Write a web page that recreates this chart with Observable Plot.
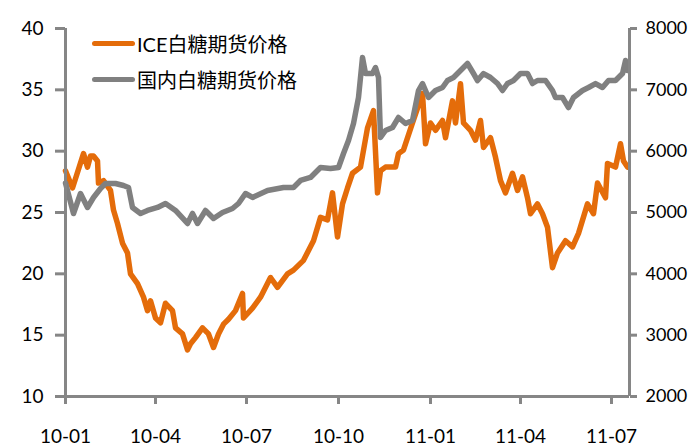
<!DOCTYPE html>
<html>
<head>
<meta charset="utf-8">
<script src="https://cdn.jsdelivr.net/npm/d3@7"></script>
<script src="https://cdn.jsdelivr.net/npm/@observablehq/plot@0.6"></script>
<style>
  html, body { margin: 0; padding: 0; background: #fff; }
  #wrap { position: relative; width: 690px; height: 448px; font-family: Lato, "Noto Sans CJK SC", sans-serif; }
  #legend { position: absolute; left: 92px; top: 0; }
  .item { position: absolute; left: 0; display: flex; align-items: center; white-space: nowrap; font-size: 20px; color: #000; }
  .swatch { display: inline-block; width: 43px; height: 5px; border-radius: 3px; margin-right: 2px; }
</style>
</head>
<body>
<div id="wrap"></div>
<script>
// ---------- data ----------
const seriesNames = ["ICE白糖期货价格", "国内白糖期货价格"];
const seriesColors = ["#E46C0A", "#808080"];

const iceDates = [
  "2010-01-01","2010-01-08","2010-01-19","2010-01-23","2010-01-26","2010-01-29","2010-02-02","2010-02-03",
  "2010-02-08","2010-02-15","2010-02-18","2010-02-22","2010-02-27","2010-03-04","2010-03-07","2010-03-14",
  "2010-03-20","2010-03-24","2010-03-27","2010-04-01","2010-04-06","2010-04-11","2010-04-18","2010-04-21",
  "2010-04-28","2010-05-03","2010-05-06","2010-05-11","2010-05-18","2010-05-24","2010-05-29","2010-06-03",
  "2010-06-08","2010-06-13","2010-06-20","2010-06-27","2010-06-28","2010-07-07","2010-07-15","2010-07-25",
  "2010-08-01","2010-08-11","2010-08-17","2010-08-27","2010-09-06","2010-09-13","2010-09-20","2010-09-25",
  "2010-09-30","2010-10-05","2010-10-10","2010-10-15","2010-10-23","2010-10-30","2010-11-05","2010-11-09",
  "2010-11-12","2010-11-17","2010-11-27","2010-11-30","2010-12-05","2010-12-14","2010-12-24","2010-12-27",
  "2011-01-01","2011-01-06","2011-01-13","2011-01-16","2011-01-23","2011-01-26","2011-01-31","2011-02-03",
  "2011-02-10","2011-02-15","2011-02-20","2011-02-23","2011-03-02","2011-03-07","2011-03-12","2011-03-17",
  "2011-03-24","2011-03-29","2011-04-03","2011-04-08","2011-04-11","2011-04-18","2011-04-23","2011-04-28",
  "2011-05-03","2011-05-08","2011-05-16","2011-05-23","2011-05-29","2011-06-07","2011-06-13","2011-06-17",
  "2011-06-25","2011-06-27","2011-07-05","2011-07-10","2011-07-13","2011-07-17"
];
const iceValues = [
  28.4,27.0,29.8,28.7,29.6,29.6,29.2,27.4,
  27.6,26.8,25.2,24.1,22.5,21.7,20.0,19.2,
  18.1,17.0,17.8,16.4,16.0,17.6,17.0,15.6,
  15.1,13.8,14.3,14.8,15.6,15.1,14.0,15.1,
  15.9,16.3,17.0,18.4,16.4,17.2,18.1,19.7,
  18.9,20.0,20.3,21.1,22.7,24.6,24.4,26.6,
  23.0,25.7,27.0,28.2,28.7,31.9,33.3,26.6,
  28.4,28.7,28.7,29.8,30.1,32.3,34.7,30.6,
  32.3,31.7,32.5,31.1,34.1,32.3,35.5,32.3,
  31.7,30.9,32.5,30.3,31.1,29.5,27.6,26.6,
  28.2,26.8,27.9,26.2,24.9,25.7,24.9,23.8,
  20.5,21.7,22.7,22.2,23.3,25.7,24.9,27.4,
  26.2,29.0,28.7,30.6,29.2,28.7
];

const cnDates = [
  "2010-01-01","2010-01-09","2010-01-16","2010-01-23","2010-01-29","2010-02-05","2010-02-10","2010-02-20",
  "2010-02-28","2010-03-05","2010-03-09","2010-03-17","2010-03-24","2010-04-03","2010-04-11","2010-04-21",
  "2010-05-03","2010-05-08","2010-05-13","2010-05-21","2010-05-29","2010-06-07","2010-06-17","2010-06-23",
  "2010-06-30","2010-07-07","2010-07-22","2010-08-07","2010-08-17","2010-08-24","2010-09-03","2010-09-13",
  "2010-09-23","2010-10-01","2010-10-06","2010-10-11","2010-10-16","2010-10-21","2010-10-25","2010-10-28",
  "2010-11-04","2010-11-07","2010-11-10","2010-11-12","2010-11-17","2010-11-24","2010-11-30","2010-12-07",
  "2010-12-14","2010-12-20","2010-12-24","2010-12-30","2011-01-06","2011-01-13","2011-01-18","2011-01-24",
  "2011-01-31","2011-02-07","2011-02-13","2011-02-17","2011-02-23","2011-03-02","2011-03-09","2011-03-14",
  "2011-03-19","2011-03-25","2011-04-01","2011-04-08","2011-04-13","2011-04-18","2011-04-26","2011-05-03",
  "2011-05-06","2011-05-13","2011-05-19","2011-05-24","2011-06-02","2011-06-08","2011-06-15","2011-06-22",
  "2011-06-28","2011-07-05","2011-07-12","2011-07-15","2011-07-17"
];
const cnValues = [
  5480,4984,5310,5082,5245,5392,5473,5473,
  5440,5408,5082,4984,5033,5082,5147,5033,
  4821,4984,4821,5033,4902,5000,5065,5147,
  5310,5245,5359,5408,5408,5522,5571,5734,
  5717,5734,5962,6174,6451,6875,7527,7266,
  7266,7364,7201,6223,6337,6386,6549,6451,
  6500,6989,7103,6875,6989,7038,7152,7201,
  7315,7429,7266,7152,7266,7201,7103,6989,
  7103,7152,7266,7266,7103,7152,7152,6989,
  6875,6875,6712,6875,6989,7038,7103,7038,
  7152,7152,7266,7478,7315
];

const leftTicks = [10, 15, 20, 25, 30, 35, 40];
const rightTicks = [2000, 3000, 4000, 5000, 6000, 7000, 8000];
const xTicks = ["2010-01-01","2010-04-01","2010-07-01","2010-10-01","2011-01-01","2011-04-01","2011-07-01"];
const xDomain = ["2010-01-01", "2011-07-19"];

// ---------- build ----------
const parse = d3.utcParse("%Y-%m-%d");
const leftDomain = [10, 40];
const rightDomain = [2000, 8000];
const toLeft = v => leftDomain[0] + (v - rightDomain[0]) / (rightDomain[1] - rightDomain[0]) * (leftDomain[1] - leftDomain[0]);
const toRight = v => rightDomain[0] + (v - leftDomain[0]) / (leftDomain[1] - leftDomain[0]) * (rightDomain[1] - rightDomain[0]);

const ice = iceDates.map((d, i) => ({date: parse(d), value: iceValues[i]}));
const cn = cnDates.map((d, i) => ({date: parse(d), value: toLeft(cnValues[i])}));

const axisColor = "#868686";
const chart = Plot.plot({
  width: 690,
  height: 448,
  marginLeft: 65,
  marginRight: 61,
  marginTop: 28,
  marginBottom: 52,
  style: {fontFamily: "Lato, 'Noto Sans CJK SC', sans-serif", fontSize: "18px", color: "#000", background: "#fff", overflow: "visible"},
  x: {type: "utc", domain: xDomain.map(parse)},
  y: {domain: leftDomain},
  marks: [
    Plot.line(ice, {x: "date", y: "value", stroke: seriesColors[0], strokeWidth: 5.5, strokeLinejoin: "round", curve: "linear"}),
    Plot.line(cn, {x: "date", y: "value", stroke: seriesColors[1], strokeWidth: 5.5, strokeLinejoin: "round", curve: "linear"}),
    Plot.ruleX([parse(xDomain[0])], {stroke: axisColor, strokeWidth: 3}),
    Plot.ruleX([parse(xDomain[1])], {stroke: axisColor, strokeWidth: 3}),
    Plot.ruleY([leftDomain[0]], {stroke: axisColor, strokeWidth: 3}),
    Plot.axisY(leftTicks, {anchor: "left", tickSize: 10, tickPadding: 12, stroke: axisColor, strokeWidth: 3, fill: "#000", label: null, fontSize: 19}),
    Plot.axisY(rightTicks.map(toLeft), {anchor: "right", tickSize: 7, tickPadding: 9, stroke: axisColor, strokeWidth: 3, fill: "#000", label: null, fontSize: 18, tickFormat: v => String(Math.round(toRight(v)))}),
    Plot.axisX(xTicks.map(parse), {anchor: "bottom", tickSize: 8, tickPadding: 25, stroke: axisColor, strokeWidth: 3, fill: "#000", label: null, fontSize: 19, tickFormat: d3.utcFormat("%y-%m")})
  ]
});

const wrap = document.getElementById("wrap");
wrap.appendChild(chart);

const legend = document.createElement("div");
legend.id = "legend";
const tops = [29, 65];
seriesNames.forEach((name, i) => {
  const item = document.createElement("div");
  item.className = "item";
  item.style.top = tops[i] + "px";
  const sw = document.createElement("span");
  sw.className = "swatch";
  sw.style.background = seriesColors[i];
  const tx = document.createElement("span");
  tx.textContent = name;
  item.appendChild(sw);
  item.appendChild(tx);
  legend.appendChild(item);
});
wrap.appendChild(legend);
</script>
</body>
</html>
